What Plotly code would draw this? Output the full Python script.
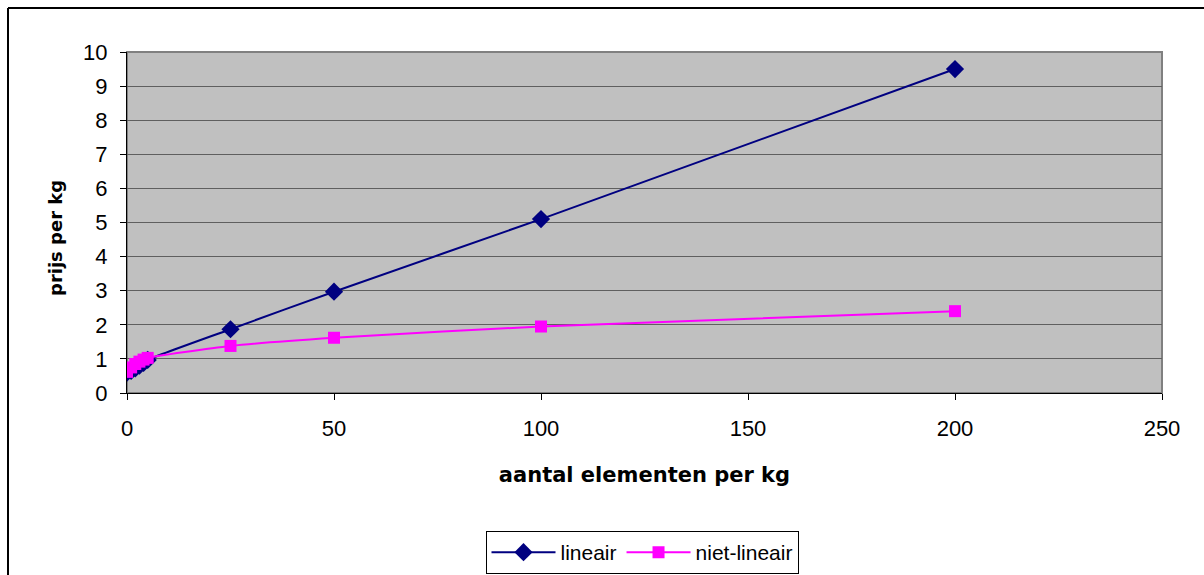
import plotly.graph_objects as go

# number of elements per kg
x_lineair = [0, 1, 2, 3, 4, 5, 25, 50, 100, 200]
y_lineair = [0.6, 0.65, 0.72, 0.8, 0.88, 0.97, 1.87, 2.97, 5.1, 9.5]

x_nietlin = [0, 1, 2, 3, 4, 5, 25, 50, 100, 200]
y_nietlin = [0.62, 0.75, 0.85, 0.92, 0.98, 1.03, 1.38, 1.62, 1.95, 2.4]

x_ticks = [0, 50, 100, 150, 200, 250]
y_ticks = list(range(0, 11))

W, H = 1204, 575
L, R, T, B = 127, 1162, 52, 393  # plot area in pixels

fig = go.Figure()
fig.add_trace(go.Scatter(
    x=x_lineair, y=y_lineair, name="lineair", mode="lines+markers",
    line=dict(color="#000080", width=2, shape="spline", smoothing=0.6),
    marker=dict(symbol="diamond", size=14, color="#000080"),
))
fig.add_trace(go.Scatter(
    x=x_nietlin, y=y_nietlin, name="niet-lineair", mode="lines+markers",
    line=dict(color="#FF00FF", width=2, shape="spline", smoothing=0.6),
    marker=dict(symbol="square", size=12, color="#FF00FF"),
))

def px_x(p):
    return (p - L) / (R - L)

def px_y(p):
    return (B - p) / (B - T)

font = "Liberation Sans, Arial, sans-serif"
bold = "DejaVu Sans, sans-serif"

fig.update_layout(
    width=W, height=H,
    margin=dict(l=L, r=W - R, t=T, b=H - B, autoexpand=False),
    paper_bgcolor="white",
    plot_bgcolor="#C0C0C0",
    font=dict(family=font, size=22, color="black"),
    xaxis=dict(
        range=[0, 250], tickvals=x_ticks, showgrid=False, zeroline=False,
        showline=True, linecolor="black", linewidth=1,
        ticks="outside", ticklen=6, tickcolor="black", ticklabelstandoff=10,
        title=dict(text="aantal elementen per kg",
                   font=dict(family=bold, size=21, weight="bold"), standoff=26),
    ),
    yaxis=dict(
        range=[0, 10], tickvals=y_ticks, showgrid=True, gridcolor="#5f5f5f", gridwidth=1,
        zeroline=False, showline=True, linecolor="black", linewidth=1,
        ticks="outside", ticklen=6, tickcolor="black", ticklabelstandoff=8,
    ),
    annotations=[
        dict(text="prijs per kg", textangle=-90, xref="paper", yref="paper",
             x=px_x(55), y=px_y(238), xanchor="center", yanchor="middle",
             showarrow=False, font=dict(family=bold, size=18, weight="bold")),
    ],
    showlegend=True,
    legend=dict(
        orientation="h", x=px_x(642), xanchor="center", y=px_y(531), yanchor="top",
        bordercolor="black", borderwidth=1, bgcolor="white",
        font=dict(size=21), itemwidth=64,
    ),
    shapes=[
        # plot-area frame
        dict(type="rect", xref="paper", yref="paper", x0=0, x1=1, y0=0, y1=1,
             line=dict(color="#808080", width=2), layer="below"),
        # chart-area border (top and left edges)
        dict(type="line", xref="paper", yref="paper",
             x0=px_x(8), x1=px_x(1210), y0=px_y(8), y1=px_y(8),
             line=dict(color="black", width=2)),
        dict(type="line", xref="paper", yref="paper",
             x0=px_x(8), x1=px_x(8), y0=px_y(8), y1=px_y(580),
             line=dict(color="black", width=2)),
    ],
)

fig.write_html("out.html")
